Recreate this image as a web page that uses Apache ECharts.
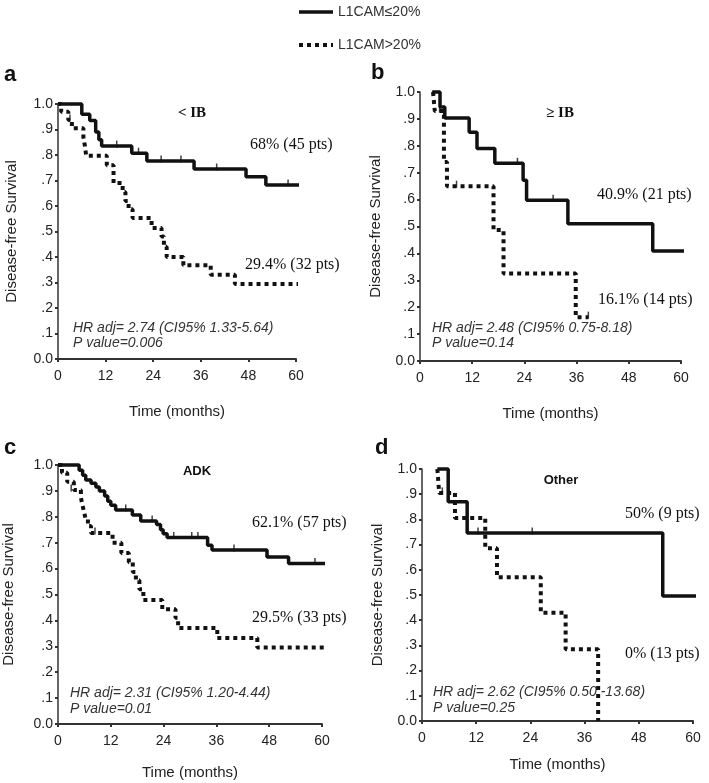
<!DOCTYPE html>
<html>
<head>
<meta charset="utf-8">
<script src="https://cdn.jsdelivr.net/npm/echarts@6/dist/echarts.min.js"></script>
<style>
  html, body { margin: 0; padding: 0; background: #fff; }
  #chart { width: 709px; height: 783px; }
</style>
</head>
<body>
<div id="chart"></div>
<script>
// tick labels
const xTicks = [0, 12, 24, 36, 48, 60]
const yTickLabels = ['0.0', '.1', '.2', '.3', '.4', '.5', '.6', '.7', '.8', '.9', '1.0']
const groupNames = ['L1CAM≤20%', 'L1CAM>20%']

// Kaplan-Meier steps: [time (months), survival after event]
// a: < IB
const aLow = [[0, 1], [6, 0.96], [8, 0.935], [9.5, 0.89], [10.3, 0.86], [11, 0.835], [18.6, 0.807], [22.4, 0.776], [34.3, 0.745], [47.4, 0.715], [52.4, 0.682], [62.7, 0.682]]
const aHigh = [[0, 1], [0.8, 0.97], [2.6, 0.937], [3.5, 0.905], [6.4, 0.87], [6.8, 0.834], [7.1, 0.797], [12.3, 0.76], [14, 0.69], [16.3, 0.655], [17, 0.62], [17.8, 0.587], [18.8, 0.553], [23.6, 0.514], [26.1, 0.48], [26.7, 0.44], [27.4, 0.4], [31.6, 0.368], [38.5, 0.33], [44.6, 0.294], [62.7, 0.294]]
const aLowCens = [[14.8, 0.835], [20.3, 0.807], [26, 0.776], [31, 0.776], [40, 0.745], [58, 0.682]]
const aHighCens = [[3, 0.937]]

// b: >= IB
const bLow = [[2.8, 1], [4.6, 0.944], [5.7, 0.903], [11.3, 0.85], [13.1, 0.79], [17.2, 0.735], [23.7, 0.672], [24.5, 0.598], [34, 0.51], [53.5, 0.409], [63.2, 0.409]]
const bHigh = [[3, 1], [3.4, 0.929], [5.5, 0.74], [6.2, 0.65], [16.9, 0.487], [19.2, 0.325], [35.8, 0.163], [38.7, 0.163]]
const bLowCens = [[22.4, 0.735], [30.6, 0.598]]
const bHighCens = [[4.5, 0.929], [8.4, 0.65], [38.7, 0.163]]

// c: ADK
const cLow = [[0, 1], [4.8, 0.98], [5.6, 0.96], [6.3, 0.942], [7.5, 0.93], [8.6, 0.915], [9.4, 0.9], [10.6, 0.88], [11.3, 0.86], [12, 0.845], [13.1, 0.826], [16.9, 0.807], [18.8, 0.784], [22.4, 0.77], [23.3, 0.75], [23.9, 0.735], [24.8, 0.72], [34, 0.69], [35, 0.672], [47.5, 0.645], [52.4, 0.62], [63.3, 0.62]]
const cHigh = [[0, 1], [0.9, 0.97], [2.1, 0.935], [3.6, 0.903], [5.2, 0.875], [5.5, 0.85], [5.9, 0.82], [6.3, 0.79], [6.8, 0.764], [7.5, 0.737], [12.4, 0.7], [14.4, 0.66], [16.1, 0.625], [17, 0.587], [17.7, 0.555], [18.5, 0.52], [19.4, 0.479], [23.7, 0.443], [26.7, 0.41], [27.3, 0.371], [36.2, 0.332], [45.3, 0.295], [63.3, 0.295]]
const cLowCens = [[15.4, 0.826], [21.4, 0.784], [26.3, 0.72], [30.4, 0.72], [31.8, 0.72], [40, 0.672], [58.4, 0.62]]
const cHighCens = [[3, 0.903], [8.4, 0.737]]

// d: Other
const dLow = [[3.4, 1], [5.8, 0.87], [10, 0.746], [53.3, 0.496], [63.3, 0.496]]
const dHigh = [[3.4, 1], [3.8, 0.905], [7.3, 0.806], [14, 0.686], [16.6, 0.57], [26.3, 0.43], [31.8, 0.285], [39, 0]]
const dLowCens = [[12.4, 0.746], [24.4, 0.746]]
const dHighCens = [[4.5, 0.905]]

const panels = [
  { low: aLow, high: aHigh, lowCens: aLowCens, highCens: aHighCens },
  { low: bLow, high: bHigh, lowCens: bLowCens, highCens: bHighCens },
  { low: cLow, high: cHigh, lowCens: cLowCens, highCens: cHighCens },
  { low: dLow, high: dHigh, lowCens: dLowCens, highCens: dHighCens },
]

const sans = "'Liberation Sans', Arial, sans-serif"
const serif = "'Liberation Serif', 'Times New Roman', serif"
const ink = '#111'
const solidLine = { color: ink, width: 3.5 }
const dotLine = { color: ink, width: 4, type: [4, 4], cap: 'butt' }

const grids = [
  { left: 58, top: 104, width: 238, height: 255 },
  { left: 420, top: 92, width: 261, height: 269 },
  { left: 57, top: 465, width: 265, height: 259 },
  { left: 422, top: 469, width: 271, height: 252 },
]
const xNameGap = [45, 45, 41, 36]
const yNameGap = [39, 37, 42, 37]

const xAxes = grids.map((g, i) => ({
  gridIndex: i,
  type: 'value',
  min: xTicks[0],
  max: xTicks[xTicks.length - 1],
  interval: 12,
  name: 'Time (months)',
  nameLocation: 'middle',
  nameGap: xNameGap[i],
  nameTextStyle: { fontFamily: sans, fontSize: 15, color: '#222' },
  axisLine: { lineStyle: { color: '#333', width: 2 } },
  axisTick: { length: 3, lineStyle: { color: '#333', width: 2 } },
  axisLabel: { fontFamily: sans, fontSize: 14, color: '#222', margin: 10 },
  splitLine: { show: false },
}))

const yAxes = grids.map((g, i) => ({
  gridIndex: i,
  type: 'value',
  min: 0,
  max: 1,
  interval: 0.1,
  name: 'Disease-free Survival',
  nameLocation: 'middle',
  nameGap: yNameGap[i],
  nameTextStyle: { fontFamily: sans, fontSize: 15, color: '#222' },
  axisLine: { show: true, lineStyle: { color: '#333', width: 1.5 } },
  axisTick: { show: true, length: 3, lineStyle: { color: '#333', width: 2 } },
  axisLabel: {
    fontFamily: sans, fontSize: 14, color: '#222', margin: 5,
    formatter: v => yTickLabels[Math.round(v * 10)],
  },
  splitLine: { show: false },
}))

const series = []
panels.forEach((p, i) => {
  series.push({
    name: groupNames[0], type: 'line', xAxisIndex: i, yAxisIndex: i,
    data: p.low, step: 'end', symbol: 'none', clip: false,
    lineStyle: solidLine, itemStyle: { color: ink },
  })
  series.push({
    name: groupNames[1], type: 'line', xAxisIndex: i, yAxisIndex: i,
    data: p.high, step: 'end', symbol: 'none', clip: false,
    lineStyle: dotLine, itemStyle: { color: ink },
  })
  series.push({
    name: 'censored', type: 'scatter', xAxisIndex: i, yAxisIndex: i,
    data: p.lowCens.concat(p.highCens), symbol: 'rect', symbolSize: [1.5, 7],
    symbolOffset: [0, -2], itemStyle: { color: ink }, silent: true,
  })
})

function txt(x, y, text, font, align, fill) {
  return {
    type: 'text', x, y,
    style: { text, font, fill: fill || ink, align: align || 'left', verticalAlign: 'middle' },
  }
}

const graphics = [
  txt(4, 75, 'a', "bold 22px " + sans),
  txt(371, 73, 'b', "bold 22px " + sans),
  txt(4, 448, 'c', "bold 22px " + sans),
  txt(375, 448, 'd', "bold 22px " + sans),

  txt(192, 113, '< IB', "bold 15px " + serif, 'center'),
  txt(560, 113, '≥ IB', "bold 15px " + serif, 'center'),
  txt(197, 471, 'ADK', "bold 13px " + sans, 'center'),
  txt(561, 480, 'Other', "bold 13px " + sans, 'center'),

  txt(250, 145, '68% (45 pts)', "16px " + serif),
  txt(245, 265, '29.4% (32 pts)', "16px " + serif),
  txt(597, 195, '40.9% (21 pts)', "16px " + serif),
  txt(598, 300, '16.1% (14 pts)', "16px " + serif),
  txt(252, 523, '62.1% (57 pts)', "16px " + serif),
  txt(252, 618, '29.5% (33 pts)', "16px " + serif),
  txt(625, 514, '50% (9 pts)', "16px " + serif),
  txt(625, 654, '0% (13 pts)', "16px " + serif),

  txt(73, 328, 'HR adj= 2.74 (CI95% 1.33-5.64)', "italic 14px " + sans, 'left', '#333'),
  txt(73, 343, 'P value=0.006', "italic 14px " + sans, 'left', '#333'),
  txt(432, 328, 'HR adj= 2.48 (CI95% 0.75-8.18)', "italic 14px " + sans, 'left', '#333'),
  txt(432, 343, 'P value=0.14', "italic 14px " + sans, 'left', '#333'),
  txt(70, 693, 'HR adj= 2.31 (CI95% 1.20-4.44)', "italic 14px " + sans, 'left', '#333'),
  txt(70, 709, 'P value=0.01', "italic 14px " + sans, 'left', '#333'),
  txt(433, 692, 'HR adj= 2.62 (CI95% 0.50 -13.68)', "italic 14px " + sans, 'left', '#333'),
  txt(433, 708, 'P value=0.25', "italic 14px " + sans, 'left', '#333'),
]

const chart = echarts.init(document.getElementById('chart'))
chart.setOption({
  animation: false,
  backgroundColor: '#fff',
  legend: {
    data: [
      { name: groupNames[0], lineStyle: solidLine },
      { name: groupNames[1], lineStyle: dotLine },
    ],
    orient: 'vertical',
    left: 292,
    top: 0,
    itemWidth: 34,
    itemHeight: 14,
    itemGap: 19,
    itemStyle: { opacity: 0 },
    textStyle: { fontFamily: sans, fontSize: 14, color: '#333' },
  },
  grid: grids,
  xAxis: xAxes,
  yAxis: yAxes,
  series,
  graphic: graphics,
})
</script>
</body>
</html>
